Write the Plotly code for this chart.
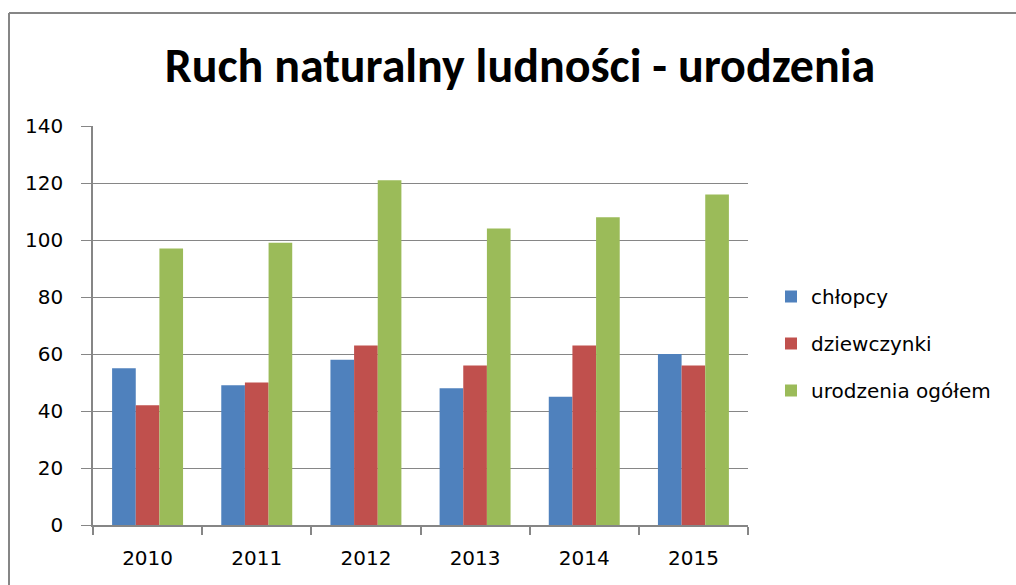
import plotly.graph_objects as go

years = ["2010", "2011", "2012", "2013", "2014", "2015"]
chlopcy = [55, 49, 58, 48, 45, 60]
dziewczynki = [42, 50, 63, 56, 63, 56]
ogolem = [97, 99, 121, 104, 108, 116]
series_names = ["chłopcy", "dziewczynki", "urodzenia ogółem"]
colors = ["#4F81BD", "#C0504D", "#9BBB59"]
y_ticks = [0, 20, 40, 60, 80, 100, 120, 140]

TITLE_FONT = "Carlito, Lato, sans-serif"
FONT = "'DejaVu Sans', sans-serif"

fig = go.Figure()
for i, (name, vals, c) in enumerate(zip(series_names, [chlopcy, dziewczynki, ogolem], colors)):
    fig.add_trace(go.Bar(x=years, y=vals, name=name, legendgroup=f"g{i}",
                         marker=dict(color=c, line=dict(width=0))))

W, H = 1016, 585
L, R, T, B = 93, 268, 126, 60
pw, ph = W - L - R, H - T - B

def px_x(x):
    return (x - L) / pw

def px_y(y):
    return (H - B - y) / ph

fig.update_layout(
    width=W, height=H,
    margin=dict(l=L, r=R, t=T, b=B),
    paper_bgcolor="white", plot_bgcolor="white",
    barmode="group", bargap=0.35, bargroupgap=0,
    font=dict(family=FONT, size=20, color="#000000"),
    title=dict(text="<b>Ruch naturalny ludności - urodzenia</b>", x=520 / W, xanchor="center",
               y=1 - 65 / H, yanchor="middle", font=dict(family=TITLE_FONT, size=48, color="#000000")),
    legend=dict(x=px_x(771), y=px_y(277), xanchor="left", yanchor="top",
                font=dict(family=FONT, size=20), tracegroupgap=18, traceorder="grouped",
                itemwidth=30, bgcolor="rgba(0,0,0,0)"),
    xaxis=dict(type="category", showgrid=False, showline=True, linecolor="#868686", linewidth=1.5,
               ticks="outside", tickson="boundaries", ticklen=8, tickcolor="#868686", tickwidth=1.5,
               tickfont=dict(family=FONT, size=20), ticklabelstandoff=14),
    yaxis=dict(range=[0, 140], tickvals=y_ticks, showgrid=True, gridcolor="#868686", gridwidth=1.2,
               showline=True, linecolor="#868686", linewidth=1.5, ticks="outside", ticklen=10,
               tickcolor="#868686", tickwidth=1.2, zeroline=False,
               tickfont=dict(family=FONT, size=20), ticklabelstandoff=14),
    shapes=[
        dict(type="line", xref="paper", yref="paper", x0=px_x(9), x1=px_x(9),
             y0=px_y(13), y1=px_y(590), line=dict(color="#868686", width=2)),
        dict(type="line", xref="paper", yref="paper", x0=px_x(9), x1=px_x(1020),
             y0=px_y(13), y1=px_y(13), line=dict(color="#868686", width=2)),
    ],
)

fig.write_html("out.html", config={"displayModeBar": False},
               post_script="document.body.style.margin='0';document.body.style.overflow='hidden';")
